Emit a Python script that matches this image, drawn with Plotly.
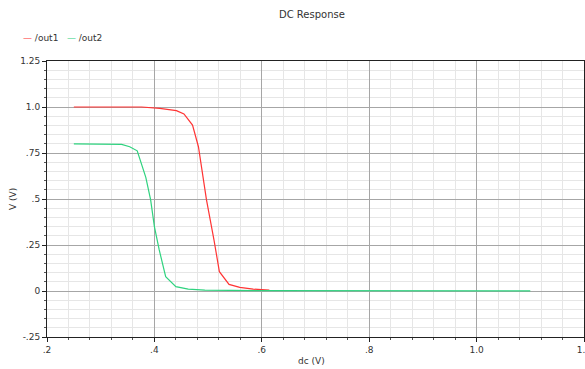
import plotly.graph_objects as go

# out1 (red)
out1_x = [0.25, 0.30, 0.35, 0.376, 0.41, 0.441, 0.455, 0.471, 0.482, 0.497, 0.511, 0.521, 0.539, 0.559, 0.584, 0.614]
out1_y = [1.0, 1.0, 1.0, 1.0, 0.993, 0.98, 0.962, 0.902, 0.784, 0.495, 0.277, 0.105, 0.036, 0.02, 0.01, 0.005]
# out2 (green)
out2_x = [0.25, 0.32, 0.339, 0.354, 0.368, 0.384, 0.393, 0.40, 0.409, 0.421, 0.44, 0.463, 0.494, 0.6, 0.8, 1.0, 1.1]
out2_y = [0.8, 0.8, 0.797, 0.784, 0.762, 0.618, 0.495, 0.35, 0.223, 0.078, 0.024, 0.01, 0.005, 0.002, 0.001, 0.001, 0.001]

series_names = ["/out1", "/out2"]
series_colors = ["#ff3434", "#2fd37f"]

x_tickvals = [0.2, 0.4, 0.6, 0.8, 1.0, 1.2]
x_ticktext = [".2", ".4", ".6", ".8", "1.0", "1.2"]
y_tickvals = [-0.25, 0, 0.25, 0.5, 0.75, 1.0, 1.25]
y_ticktext = ["-.25", "0", ".25", ".5", ".75", "1.0", "1.25"]

font = dict(family="DejaVu Sans", size=9, color="#333333")

fig = go.Figure()
for xs, ys, nm, col in [(out1_x, out1_y, series_names[0], series_colors[0]),
                        (out2_x, out2_y, series_names[1], series_colors[1])]:
    fig.add_trace(go.Scatter(x=xs, y=ys, mode="lines", name=nm,
                             line=dict(color=col, width=1.2), showlegend=False))

axis_common = dict(
    showline=True, linecolor="#222222", linewidth=1, mirror=True,
    ticks="outside", ticklen=4, tickcolor="#222222",
    showgrid=True, gridcolor="#a6a6a6", gridwidth=1,
    zeroline=False, tickfont=font, automargin=False,
    ticklabeloverflow="allow",
)

fig.update_xaxes(range=[0.2, 1.2], tickvals=x_tickvals, ticktext=x_ticktext,
                 minor=dict(dtick=0.04, ticks="outside", ticklen=2, tickcolor="#555555",
                            showgrid=True, gridcolor="#e6e6e6", gridwidth=1),
                 **axis_common)
fig.update_yaxes(range=[-0.25, 1.25], tickvals=y_tickvals, ticktext=y_ticktext,
                 minor=dict(dtick=0.05, ticks="outside", ticklen=2, tickcolor="#555555",
                            showgrid=True, gridcolor="#e6e6e6", gridwidth=1),
                 **axis_common)

annotations = [
    dict(text="DC Response", xref="paper", yref="paper", x=0.493, y=1, yshift=47,
         xanchor="center", yanchor="middle", showarrow=False,
         font=dict(family="DejaVu Sans", size=10, color="#333333")),
    dict(text="dc (V)", xref="paper", yref="paper", x=0.493, y=0, yshift=-24,
         xanchor="center", yanchor="middle", showarrow=False, font=font),
    dict(text="V (V)", xref="paper", yref="paper", x=0, y=0.5, xshift=-34,
         xanchor="center", yanchor="middle", textangle=-90, showarrow=False, font=font),
    dict(text=f"<span style='color:{series_colors[0]}'>—</span> {series_names[0]}   "
              f"<span style='color:{series_colors[1]}'>—</span> {series_names[1]}",
         xref="paper", yref="paper", x=0, xshift=-26, y=1, yshift=23,
         xanchor="left", yanchor="middle", showarrow=False, font=font),
]

fig.update_layout(
    width=585, height=369,
    margin=dict(l=47, r=1, t=61, b=32, autoexpand=False),
    paper_bgcolor="white", plot_bgcolor="white",
    font=font,
    showlegend=False,
    annotations=annotations,
)

fig.write_html("out.html",
               config={"displayModeBar": False},
               post_script="document.body.style.margin='0';document.body.style.overflow='hidden';")
